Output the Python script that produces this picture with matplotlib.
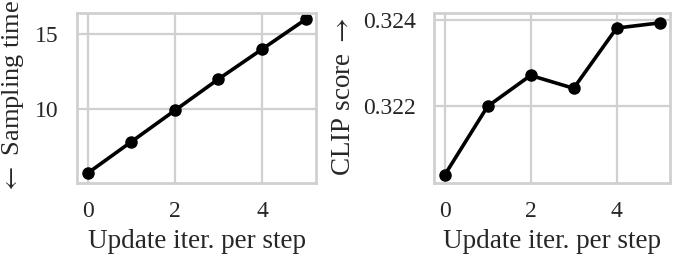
import matplotlib
matplotlib.use("Agg")
import matplotlib.pyplot as plt

iters = [0, 1, 2, 3, 4, 5]
sampling_time = [5.7, 7.8, 9.9, 12.0, 14.0, 16.0]
clip_score = [0.3204, 0.3220, 0.32272, 0.32242, 0.32382, 0.32394]
xticks = [0, 2, 4]
yticks_left = [10, 15]
yticks_right = [0.322, 0.324]

plt.rcParams['font.family'] = ['Liberation Serif', 'DejaVu Serif']
plt.rcParams['mathtext.fontset'] = 'stix'

TXT = '#262626'
fig = plt.figure(figsize=(6.75, 2.57), dpi=100)
ax1 = fig.add_axes([77/675, 1-183/257, (316-77)/675, 170/257])
ax2 = fig.add_axes([434/675, 1-183/257, (670-434)/675, 170/257])

for ax, y, yt, fmt in [(ax1, sampling_time, yticks_left, '{:g}'),
                       (ax2, clip_score, yticks_right, '{:.3f}')]:
    ax.plot(iters, y, color='black', lw=2.6, marker='o', ms=8)
    ax.set_xticks(xticks)
    ax.set_yticks(yt)
    ax.set_yticklabels([fmt.format(v) for v in yt])
    ax.grid(True, color='#d0d0d0', lw=1.6)
    ax.set_axisbelow(True)
    for s in ax.spines.values():
        s.set_color('#d0d0d0')
        s.set_linewidth(2)
    ax.tick_params(length=0, labelsize=17, colors=TXT)
    ax.tick_params(axis='y', pad=13)
    ax.tick_params(axis='x', pad=13)
    ax.set_xlabel('Update iter. per step', fontsize=19.5, color=TXT, labelpad=5)
    ax.set_xlim(-0.245, 5.24)

ax1.set_ylim(5.04, 16.43)
ax2.set_ylim(0.32022, 0.32417)

fig.text(13/675, 1-194/257, r'$\leftarrow$ Sampling time', rotation=90, ha='center', va='bottom',
         fontsize=19, color=TXT)
fig.text(343/675, 1-176/257, r'CLIP score $\rightarrow$', rotation=90, ha='center', va='bottom',
         fontsize=19.5, color=TXT)

fig.savefig('out.png', dpi=100)
